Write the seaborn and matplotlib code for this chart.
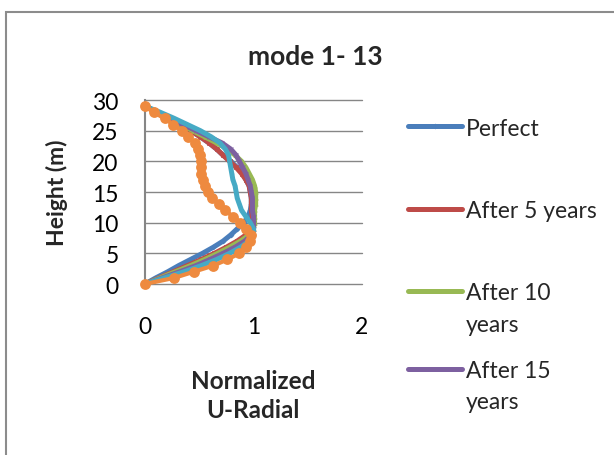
import matplotlib
matplotlib.use("Agg")
import matplotlib.pyplot as plt
from matplotlib.lines import Line2D
from matplotlib.patches import Rectangle
import seaborn as sns
import pandas as pd

# ---- data ----
heights = [0, 1, 2, 3, 4, 5, 6, 7, 8, 9, 10, 11, 12, 13, 14, 15, 16, 17, 18, 19,
           20, 21, 22, 23, 24, 25, 26, 27, 28, 29]
perfect = [0, 0.10, 0.21, 0.31, 0.42, 0.53, 0.63, 0.72, 0.79, 0.85, 0.91, 0.95, 0.97, 0.98, 0.98,
           0.97, 0.96, 0.93, 0.90, 0.85, 0.79, 0.72, 0.66, 0.59, 0.51, 0.42, 0.32, 0.22, 0.11, 0]
after5 = [0, 0.13, 0.26, 0.39, 0.52, 0.64, 0.75, 0.85, 0.93, 0.98, 0.99, 0.99, 0.98, 0.98, 0.98,
          0.97, 0.96, 0.93, 0.89, 0.84, 0.78, 0.72, 0.66, 0.59, 0.51, 0.42, 0.32, 0.22, 0.11, 0]
after10 = [0, 0.14, 0.28, 0.42, 0.55, 0.67, 0.78, 0.88, 0.96, 1.00, 1.01, 1.01, 1.01, 1.02, 1.02,
           1.02, 1.01, 0.99, 0.96, 0.93, 0.89, 0.83, 0.76, 0.66, 0.55, 0.44, 0.33, 0.22, 0.11, 0]
after15 = [0, 0.16, 0.32, 0.47, 0.60, 0.72, 0.83, 0.92, 0.98, 1.00, 1.00, 1.00, 0.99, 0.99, 0.99,
           0.98, 0.97, 0.95, 0.93, 0.90, 0.87, 0.84, 0.79, 0.71, 0.59, 0.47, 0.35, 0.23, 0.11, 0]
after20 = [0, 0.18, 0.36, 0.52, 0.66, 0.78, 0.88, 0.96, 1.00, 1.00, 0.97, 0.93, 0.89, 0.87, 0.85,
           0.84, 0.83, 0.81, 0.80, 0.79, 0.78, 0.77, 0.74, 0.69, 0.61, 0.51, 0.39, 0.27, 0.14, 0]
after25 = [0, 0.27, 0.45, 0.63, 0.76, 0.87, 0.93, 0.97, 0.98, 0.93, 0.88, 0.81, 0.74, 0.68, 0.62,
           0.58, 0.55, 0.53, 0.52, 0.52, 0.52, 0.51, 0.49, 0.46, 0.40, 0.34, 0.26, 0.18, 0.08, 0]

series_names = ["Perfect", "After 5 years", "After 10 years", "After 15 years",
                "After 20 years", "After 25 years"]
series_values = [perfect, after5, after10, after15, after20, after25]
colors = ["#4A7EBB", "#BE4B48", "#98B954", "#7D60A0", "#46AAC5", "#EE8A3F"]
markers = ["D", "s", "^", "x", "*", "o"]

x_ticks = [0, 1, 2]
y_ticks = [0, 5, 10, 15, 20, 25, 30]

rows = []
for name, vals in zip(series_names, series_values):
    for h, v in zip(heights, vals):
        rows.append({"Series": name, "U": v, "Height": h})
df = pd.DataFrame(rows)

sns.set_style("white")
plt.rcParams["font.family"] = ["Lato", "DejaVu Sans"]

W, H = 614, 456
FS = 16.5
fig = plt.figure(figsize=(W / 100, H / 100), dpi=100)
ax = fig.add_axes([145 / W, 1 - 285 / H, 217 / W, 184 / H])

grid_c = "#868686"
for yt in y_ticks:
    ax.axhline(yt, color=grid_c, lw=1.0, zorder=0)

for i, name in enumerate(series_names):
    sub = df[df["Series"] == name]
    if name == "After 25 years":
        sns.lineplot(data=sub, x="U", y="Height", sort=False, estimator=None, ax=ax,
                     color=colors[i], lw=3.0, marker="o", markersize=7.8,
                     markeredgewidth=0, zorder=3 + i)
    else:
        sns.lineplot(data=sub, x="U", y="Height", sort=False, estimator=None, ax=ax,
                     color=colors[i], lw=3.6, marker=markers[i], markersize=2.5,
                     markeredgewidth=0.5, markeredgecolor=colors[i], zorder=3 + i)

ax.set_xlim(0, 2)
ax.set_ylim(0, 30)
ax.set_xticks(x_ticks)
ax.set_yticks(y_ticks)
ax.set_xlabel("")
ax.set_ylabel("")
for s in ["top", "right", "bottom"]:
    ax.spines[s].set_visible(False)
ax.spines["left"].set_color(grid_c)
ax.spines["left"].set_linewidth(1.5)
ax.tick_params(axis="both", length=0, labelsize=FS, colors="black")
ax.tick_params(axis="y", pad=19)
ax.tick_params(axis="x", pad=23)
for l in ax.lines:
    l.set_clip_on(False)

fig.text(315 / W, 1 - 57 / H, "mode 1- 13", ha="center", va="center",
         fontsize=19, fontweight="bold")
fig.text(57 / W, 1 - 193 / H, "Height (m)", ha="center", va="center",
         rotation=90, fontsize=16.5, fontweight="bold")
fig.text(253 / W, 1 - 396 / H, "Normalized\nU-Radial", ha="center", va="center",
         fontsize=17.5, fontweight="bold", linespacing=1.35)

# legend (only four entries are visible in the original, the rest is clipped)
leg_y = [129, 212, 294, 372]
leg_labels = ["Perfect", "After 5 years", "After 10", "After 15"]
extra = {2: "years", 3: "years"}
for i, (yy, lab) in enumerate(zip(leg_y, leg_labels)):
    h = Line2D([], [], color=colors[i], lw=3.6, marker=markers[i], markersize=2.5,
               markeredgecolor=colors[i], markeredgewidth=0.5)
    fig.legend([h], [lab], loc="center left", bbox_to_anchor=(408 / W, 1 - yy / H),
               frameon=False, borderpad=0, borderaxespad=0, handlelength=54 / (FS * 100 / 72),
               handletextpad=4 / (FS * 100 / 72), fontsize=FS)
    if i in extra:
        fig.text(466 / W, 1 - (yy + 31) / H, extra[i], ha="left", va="center", fontsize=FS)

fig.add_artist(Rectangle((6 / W, -0.2), 1.2, 1 - 13 / H + 0.2, transform=fig.transFigure,
                         fill=False, edgecolor="#8C8C8C", lw=1.5))

fig.savefig("out.png", dpi=100)
